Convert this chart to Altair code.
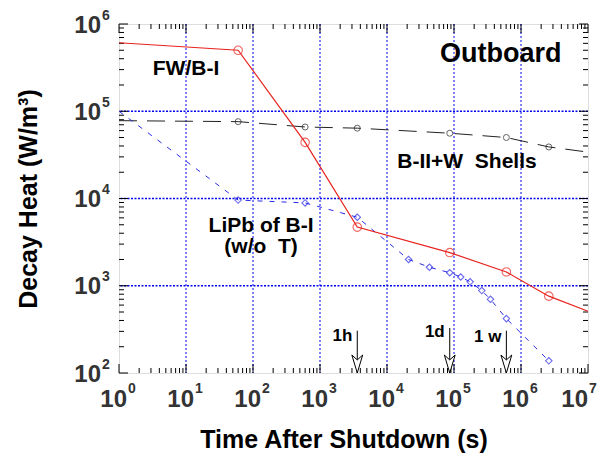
import altair as alt
import pandas as pd

W, H = 469, 349
FONT = "Arial, Liberation Sans, Helvetica, sans-serif"
NB = "\u00a0"

# ---- data ----
red_t = [1, 60, 600, 3600, 86400, 604800, 2.6e6, 1e7]
red_v = [6.1e5, 5.0e5, 4.4e4, 4.7e3, 2.4e3, 1.44e3, 7.6e2, 5.1e2]
red_m = [0, 1, 1, 1, 1, 1, 1, 0]

blk_t = [1, 60, 600, 3600, 86400, 604800, 2.6e6, 1e7]
blk_v = [7.8e4, 7.6e4, 6.6e4, 6.4e4, 5.6e4, 5.0e4, 3.9e4, 3.4e4]
blk_m = [0, 1, 1, 1, 1, 1, 1, 0]

blu_t = [1, 60, 600, 3600, 2.1e4, 4.3e4, 86400, 1.26e5, 1.74e5, 2.6e5, 3.5e5, 604800, 2.6e6]
blu_v = [1.0e5, 9.6e3, 8.9e3, 6.1e3, 2.0e3, 1.63e3, 1.41e3, 1.26e3, 1.11e3, 8.8e2, 7.0e2, 4.2e2, 1.38e2]
blu_m = [0, 1, 1, 1, 1, 1, 1, 1, 1, 1, 1, 1, 1]

x_exps = [0, 1, 2, 3, 4, 5, 6, 7]
y_exps = [2, 3, 4, 5, 6]

arrow_t = [3600, 86400, 604800]
arrow_lab = ["1h", "1d", "1" + NB + "w"]
arrow_top = [305, 328, 305]
arrow_lab_y = [234, 259, 229]

ann_text = ["FW/B-I", "B-II+W" + NB + " Shells", "LiPb of B-I", "(w/o" + NB + " T)"]
ann_t = [10, 1.56e5, 132, 132]
ann_v = [2.6e5, 2.24e4, 4.13e3, 2.37e3]

# ---- tables ----
red = pd.DataFrame({"t": red_t, "v": red_v, "m": red_m})
blk = pd.DataFrame({"t": blk_t, "v": blk_v, "m": blk_m})
blu = pd.DataFrame({"t": blu_t, "v": blu_v, "m": blu_m})

xs = alt.Scale(type="log", domain=[1, 1e7], nice=False)
ys = alt.Scale(type="log", domain=[100, 1e6], nice=False)
X = lambda f="t": alt.X(f"{f}:Q", scale=xs, axis=None)
Y = lambda f="v": alt.Y(f"{f}:Q", scale=ys, axis=None)

xmaj = pd.DataFrame({"t": [10.0 ** e for e in x_exps], "e": [str(e) for e in x_exps], "b": "10"})
ymaj = pd.DataFrame({"v": [10.0 ** e for e in y_exps], "e": [str(e) for e in y_exps], "b": "10"})
xminor = pd.DataFrame({"t": [k * 10.0 ** e for e in x_exps[:-1] for k in range(2, 10)]})
yminor = pd.DataFrame({"v": [k * 10.0 ** e for e in y_exps[:-1] for k in range(2, 10)]})
xgrid = xmaj.iloc[1:-1]
ygrid = ymaj.iloc[1:-1]
xlab_main = xmaj.iloc[:-1]
xlab_last = xmaj.iloc[-1:]

GRID = "#0000ee"
layers = []
# grid
layers.append(alt.Chart(xgrid).mark_rule(color=GRID, strokeDash=[2, 2], strokeWidth=1).encode(x=X()))
layers.append(alt.Chart(ygrid).mark_rule(color=GRID, strokeDash=[2, 1.5], strokeWidth=1.6).encode(y=Y()))

# ticks (inside, all four sides)
for df, ln in ((xminor, 5), (xmaj, 9)):
    layers.append(alt.Chart(df).mark_rule(color="black", strokeWidth=1).encode(
        x=X(), y=alt.value(H), y2=alt.value(H - ln)))
    layers.append(alt.Chart(df).mark_rule(color="black", strokeWidth=1).encode(
        x=X(), y=alt.value(0), y2=alt.value(ln)))
for df, ln in ((yminor, 5), (ymaj, 9)):
    layers.append(alt.Chart(df).mark_rule(color="black", strokeWidth=1).encode(
        y=Y(), x=alt.value(0), x2=alt.value(ln)))
    layers.append(alt.Chart(df).mark_rule(color="black", strokeWidth=1).encode(
        y=Y(), x=alt.value(W), x2=alt.value(W - ln)))

# series
layers.append(alt.Chart(blk).mark_line(color="#222222", strokeWidth=1, strokeDash=[18, 10]).encode(x=X(), y=Y()))
layers.append(alt.Chart(blk).transform_filter("datum.m == 1").mark_point(
    shape="circle", filled=False, color="#222222", size=36, strokeWidth=1).encode(x=X(), y=Y()))

layers.append(alt.Chart(blu).mark_line(color="#2a2ae6", strokeWidth=1, strokeDash=[5, 7]).encode(x=X(), y=Y()))
layers.append(alt.Chart(blu).transform_filter("datum.m == 1").mark_point(
    shape="diamond", filled=False, color="#2a2ae6", size=42, strokeWidth=1.1).encode(x=X(), y=Y()))

layers.append(alt.Chart(red).mark_line(color="#e8231e", strokeWidth=1.2).encode(x=X(), y=Y()))
layers.append(alt.Chart(red).transform_filter("datum.m == 1").mark_point(
    shape="circle", filled=False, color="#e8231e", size=72, strokeWidth=1.1).encode(x=X(), y=Y()))

# arrows
arr = pd.DataFrame({"t": arrow_t, "lab": arrow_lab, "top": arrow_top, "ly": arrow_lab_y})
layers.append(alt.Chart(arr).mark_rule(color="black", strokeWidth=1).encode(
    x=X(), y=Y("top"), y2=alt.value(H)))
layers.append(alt.Chart(arr).mark_point(
    shape="M -0.6,-1 L 0,1 L 0.6,-1 L 0,-0.45 Z", filled=True, fill="white", stroke="black",
    strokeWidth=1, size=324, opacity=1).encode(x=X(), y=alt.value(H - 9)))
layers.append(alt.Chart(arr).mark_text(align="right", baseline="alphabetic", dx=-5,
    font=FONT, fontSize=17, fontWeight="bold", color="black").encode(
    x=X(), y=Y("ly"), text="lab:N"))

# annotations
ann = pd.DataFrame({"t": ann_t, "v": ann_v, "s": ann_text})
layers.append(alt.Chart(ann).mark_text(align="center", baseline="alphabetic",
    font=FONT, fontSize=21, fontWeight="bold", color="black").encode(x=X(), y=Y(), text="s:N"))
layers.append(alt.Chart(pd.DataFrame({"t": [5.0e5], "v": [3.67e5], "s": ["Outboard"]})).mark_text(
    align="center", baseline="alphabetic", font=FONT, fontSize=27, fontWeight="bold",
    color="black").encode(x=X(), y=Y(), text="s:N"))

# tick labels
LBL = "#333333"
for df, off in ((xlab_main, 8), (xlab_last, 0)):
    layers.append(alt.Chart(df).mark_text(align="right", baseline="alphabetic", dx=off,
        font=FONT, fontSize=24, fontWeight="bold", color=LBL).encode(x=X(), y=alt.value(H + 34), text="b:N"))
    layers.append(alt.Chart(df).mark_text(align="left", baseline="alphabetic", dx=off + 1,
        font=FONT, fontSize=14, fontWeight="bold", color=LBL).encode(x=X(), y=alt.value(H + 20), text="e:N"))
layers.append(alt.Chart(ymaj).mark_text(align="right", baseline="alphabetic", dy=8.5,
    font=FONT, fontSize=24, fontWeight="bold", color=LBL).encode(y=Y(), x=alt.value(-18), text="b:N"))
layers.append(alt.Chart(ymaj).mark_text(align="left", baseline="alphabetic", dy=-4.5,
    font=FONT, fontSize=14, fontWeight="bold", color=LBL).encode(y=Y(), x=alt.value(-17), text="e:N"))

# axis titles
titles = pd.DataFrame({"a": [0]})
layers.append(alt.Chart(titles).mark_text(align="center", baseline="alphabetic",
    font=FONT, fontSize=25, fontWeight="bold", color="black", text="Time After Shutdown (s)").encode(
    x=alt.value(225), y=alt.value(424)))
layers.append(alt.Chart(titles).mark_text(align="center", baseline="alphabetic", angle=270,
    font=FONT, fontSize=25, fontWeight="bold", color="black", text="Decay Heat (W/m³)").encode(
    x=alt.value(-82), y=alt.value(175)))

chart = alt.layer(*layers).properties(
    width=W, height=H,
    padding={"left": 111, "top": 16, "right": 9, "bottom": 84},
    autosize=alt.AutoSizeParams(type="none"),
).configure_view(stroke="black", strokeWidth=2).configure(background="white")

chart.save("out.html", embed_options={"renderer": "svg", "actions": False})
